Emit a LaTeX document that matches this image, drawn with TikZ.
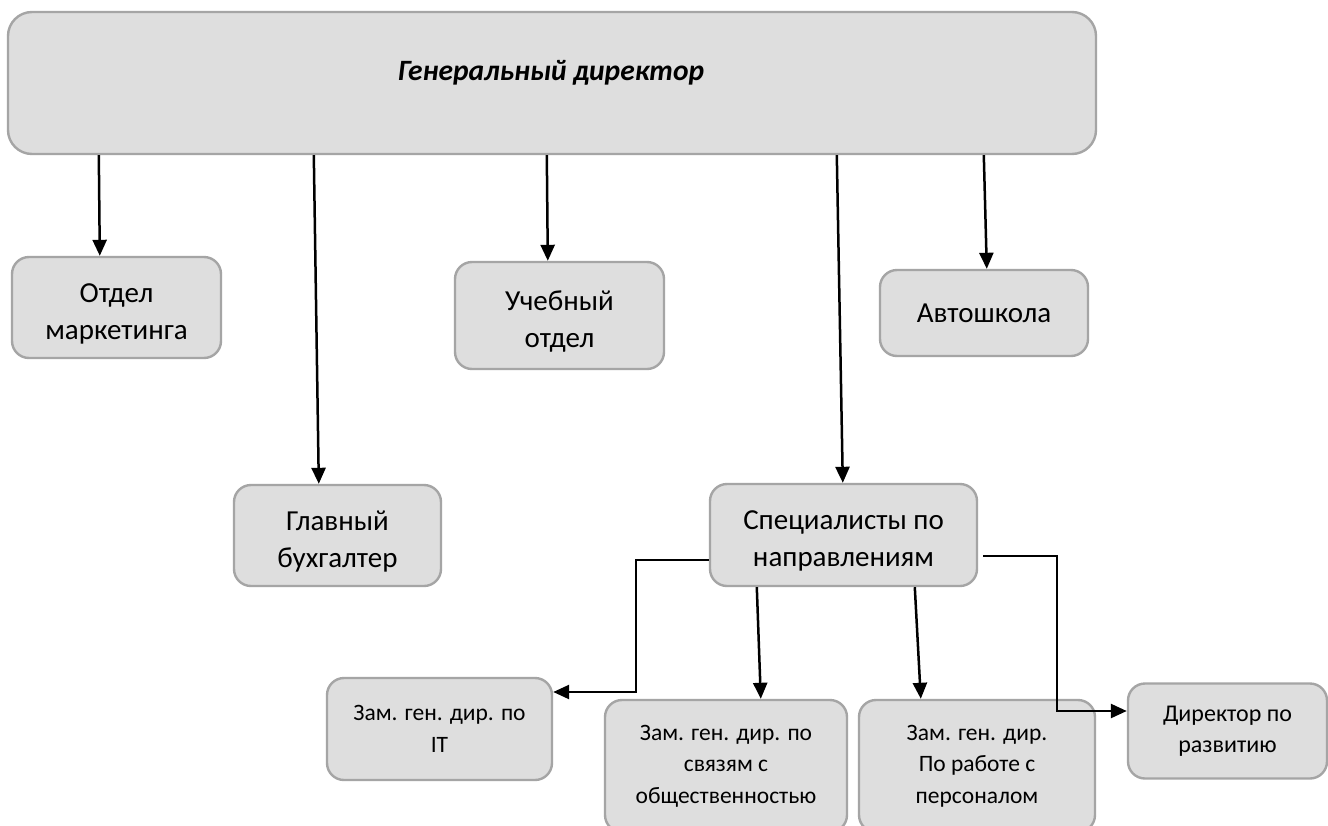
\documentclass[tikz,border=0pt]{standalone}
\usepackage{fontspec}
\setmainfont{Carlito}
\usetikzlibrary{arrows.meta,calc}
\definecolor{boxfill}{HTML}{DEDEDE}
\definecolor{boxline}{HTML}{A5A5A5}
\newcommand\tallstrut{\rule{0pt}{31pt}}
\begin{document}
\begin{tikzpicture}[x=1pt,y=-1pt,
  orgbox/.style={draw=boxline,fill=boxfill,line width=2.4pt,rounded corners=17pt,
    inner sep=0pt,align=center,font=\fontsize{29}{37}\selectfont},
  smallbox/.style={orgbox,font=\fontsize{23.5}{31.5}\selectfont},
  link/.style={line width=2.5pt,-{Triangle[length=16pt,width=14pt]}}]
\useasboundingbox (0,0) rectangle (1328,825);
\fill[white] (0,0) rectangle (1328,825);
% nodes
\node[orgbox,rounded corners=24pt,minimum width=1088pt,minimum height=142pt] (gd) at (552,83) {};
\node[font=\fontsize{29.5}{34}\selectfont\bfseries\itshape] (gdt) at (551,73) {Генеральный директор};
\node[orgbox,minimum width=209pt,minimum height=101pt] (mk) at (116.5,307.5) {\tallstrut Отдел\\маркетинга};
\node[orgbox,minimum width=209pt,minimum height=107pt] (uch) at (559.5,315.5) {\tallstrut Учебный\\отдел};
\node[orgbox,minimum width=208pt,minimum height=86pt] (avto) at (984,313) {Автошкола};
\node[orgbox,minimum width=207pt,minimum height=101pt] (buh) at (337.5,535.5) {\tallstrut Главный\\бухгалтер};
\node[orgbox,minimum width=267pt,minimum height=102pt] (spec) at (843.5,535) {\tallstrut Специалисты по\\направлениям};
\node[smallbox,minimum width=225pt,minimum height=102pt] (it) at (439.5,729) {Зам. ген. дир. по\\IT};
\node[smallbox,minimum width=242pt,minimum height=132pt] (svyaz) at (726,766) {Зам. ген. дир. по\\связям с\\общественностью};
\node[smallbox,minimum width=236pt,minimum height=132pt] (pers) at (977,766) {Зам. ген. дир.\\По работе с\\персоналом};
\node[smallbox,font=\fontsize{24}{31}\selectfont,minimum width=199pt,minimum height=95pt] (razv) at (1227.5,731) {Директор по\\развитию};
% connectors
\draw[link] ([xshift=92pt]gd.south west) -- ([xshift=89pt]mk.north west);
\draw[link] ([xshift=307pt]gd.south west) -- ([xshift=86pt]buh.north west);
\draw[link] ([xshift=540pt]gd.south west) -- ([xshift=94pt]uch.north west);
\draw[link] ([xshift=830pt]gd.south west) -- ([xshift=134pt]spec.north west);
\draw[link] ([xshift=977pt]gd.south west) -- ([xshift=108pt]avto.north west);
\draw[link] ([yshift=-25pt]spec.west) -- ++(-73,0) |- ([yshift=37pt]it.east);
\draw[link] ([xshift=48pt]spec.south west) -- ([xshift=157pt]svyaz.north west);
\draw[link] ([xshift=206pt]spec.south west) -- ([xshift=63pt]pers.north west);
\draw[link] ([xshift=5pt,yshift=-21pt]spec.east) -- ++(74,0) |- ([yshift=20pt]razv.west);
\end{tikzpicture}
\end{document}
